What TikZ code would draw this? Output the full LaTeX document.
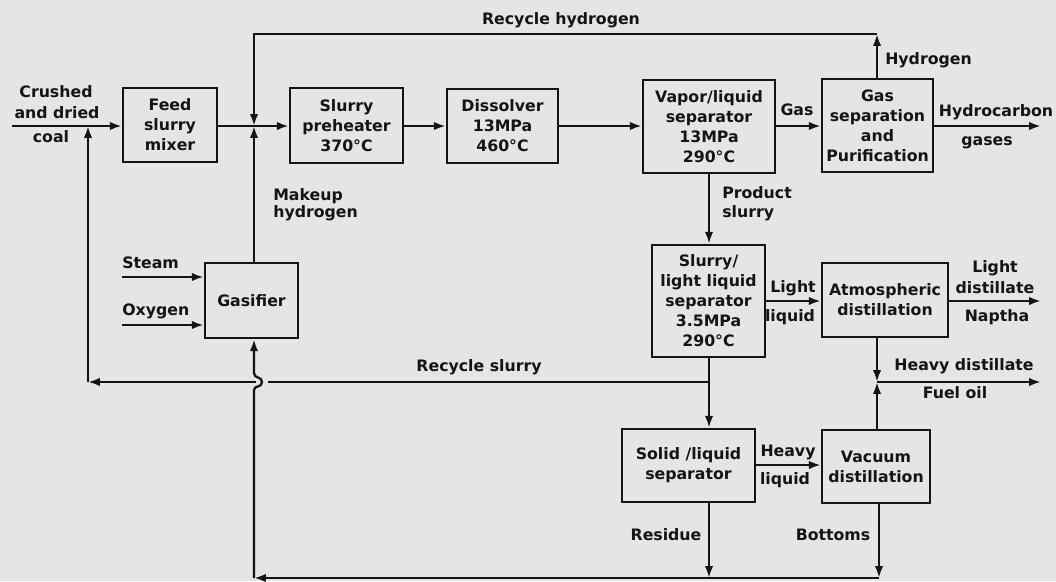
\documentclass[tikz,border=0pt]{standalone}
\usepackage{fontspec}
\setmainfont{DejaVu Sans}
\usetikzlibrary{arrows.meta}
\definecolor{bg}{HTML}{E5E5E3}
\definecolor{ink}{HTML}{141414}
\begin{document}
\begin{tikzpicture}[x=0.025cm,y=-0.025cm,
  font=\bfseries\fontsize{11.2}{14.2}\selectfont,
  box/.style={draw=ink, line width=1.7pt, align=center, inner sep=1pt, text=ink},
  flow/.style={draw=ink, line width=1.6pt},
  arr/.style={flow, -{Latex[length=8.5pt,width=6pt]}},
  lbl/.style={text=ink, inner sep=0pt, align=center}]
\fill[bg] (0,0) rectangle (1056,581);
\useasboundingbox (0,0) rectangle (1056,581);

% boxes
\node[box, minimum width=2.35cm, minimum height=1.85cm] (mix) at (170,125) {Feed\\slurry\\mixer};
\node[box, minimum width=2.825cm, minimum height=1.875cm] (pre) at (346.5,125.5) {Slurry\\preheater\\370°C};
\node[box, minimum width=2.775cm, minimum height=1.85cm] (dis) at (502.5,126) {Dissolver\\13MPa\\460°C};
\node[box, minimum width=3.3cm, minimum height=2.325cm] (vls) at (709,126.5) {Vapor/liquid\\separator\\13MPa\\290°C};
\node[box, minimum width=2.775cm, minimum height=2.325cm] (gsp) at (877.5,125.5) {Gas\\separation\\and\\Purification};
\node[box, minimum width=2.325cm, minimum height=1.875cm] (gasf) at (251.5,300.5) {Gasifier};
\node[box, minimum width=2.825cm, minimum height=2.8cm] (sls) at (708.5,301) {Slurry/\\light liquid\\separator\\3.5MPa\\290°C};
\node[box, minimum width=3.15cm, minimum height=1.85cm] (atm) at (885,300) {Atmospheric\\distillation};
\node[box, minimum width=3.325cm, minimum height=1.825cm] (sol) at (688.5,465.5) {Solid /liquid\\separator};
\node[box, minimum width=2.7cm, minimum height=1.825cm] (vac) at (876,466.5) {Vacuum\\distillation};

% coordinates
\coordinate (cin) at (12,126);
\coordinate (jn) at (254,126);
\coordinate (mk) at (88,126);
\coordinate (rh1) at (877,34);
\coordinate (rh2) at (254,34);
\coordinate (stin) at (122,277);
\coordinate (oxin) at (122,325);
\coordinate (rs) at (709,382);
\coordinate (rsL) at (88,382);
\coordinate (gapR) at (268,382);
\coordinate (gapL) at (256,382);
\coordinate (hd) at (877,382);
\coordinate (bR) at (879,578);
\coordinate (bM) at (709,578);
\coordinate (bL) at (254,578);
\coordinate (o1) at (1041,126);
\coordinate (o2) at (1041,301);
\coordinate (o3) at (1041,382);

% main line
\draw[arr] (cin) -- (mix.west |- cin);
\draw[arr] (mix.east |- jn) -- (pre.west |- jn);
\draw[arr] (pre.east |- jn) -- (dis.west |- jn);
\draw[arr] (dis.east |- jn) -- (vls.west |- jn);
\draw[arr] (vls.east |- jn) -- (gsp.west |- jn);
\draw[arr] (gsp.east |- o1) -- (o1);

% recycle hydrogen
\draw[arr] (gsp.north -| rh1) -- (rh1);
\draw[arr] (rh1) -- (rh2) -- (jn);
% makeup hydrogen
\draw[arr] (gasf.north -| jn) -- (jn);
% steam, oxygen
\draw[arr] (stin) -- (gasf.west |- stin);
\draw[arr] (oxin) -- (gasf.west |- oxin);

% product slurry
\draw[arr] (vls.south -| rs) -- (sls.north -| rs);
\draw[arr] (sls.south -| rs) -- (sol.north -| rs);
% recycle slurry
\draw[flow] (rs) -- (gapR);
\draw[arr] (gapL) -- (rsL);
\draw[arr] (rsL) -- (mk);

% light liquid
\draw[arr] (sls.east |- o2) -- (atm.west |- o2);
\draw[arr] (atm.east |- o2) -- (o2);
% heavy distillate
\draw[arr] (atm.south -| hd) -- (hd);
\draw[arr] (vac.north -| hd) -- (hd);
\draw[arr] (hd) -- (o3);
% heavy liquid
\draw[arr] (sol.east |- 0,465) -- (vac.west |- 0,465);
% residue, bottoms
\draw[arr] (sol.south -| bM) -- (bM);
\draw[arr] (vac.south -| bR) -- (bR);
\draw[arr] (bR) -- (bL);
\draw[arr] (bL) -- (254,390) .. controls (254,385) and (262,388) .. (262,382)
  .. controls (262,376) and (254,379) .. (254,373) -- (gasf.south -| bL);

% labels
\node[lbl] (lrh) at (561,20) {Recycle hydrogen};
\node[lbl] (lc1) at (56,92) {Crushed};
\node[lbl] (lc2) at (57,113) {and dried};
\node[lbl] (lc3) at (51,137) {coal};
\node[lbl, anchor=west] (lmk1) at (273,196) {Makeup};
\node[lbl, anchor=west] (lmk2) at (273,213) {hydrogen};
\node[lbl, anchor=west] (lst) at (122,263) {Steam};
\node[lbl, anchor=west] (lox) at (122,311) {Oxygen};
\node[lbl] (lrs) at (479,367) {Recycle slurry};
\node[lbl, anchor=west] (lh2) at (885,60) {Hydrogen};
\node[lbl] (lgas) at (797,110) {Gas};
\node[lbl] (lhc1) at (996,112) {Hydrocarbon};
\node[lbl] (lhc2) at (987,143) {gases};
\node[lbl, anchor=west] (lps1) at (722,193) {Product};
\node[lbl, anchor=west] (lps2) at (722,213) {slurry};
\node[lbl] (lll1) at (793,288) {Light};
\node[lbl] (lll2) at (790,317) {liquid};
\node[lbl] (lld1) at (995,268) {Light};
\node[lbl] (lld2) at (995,288) {distillate};
\node[lbl] (lld3) at (997,317) {Naptha};
\node[lbl] (lhd1) at (964,366) {Heavy distillate};
\node[lbl] (lhd2) at (955,393) {Fuel oil};
\node[lbl] (lres) at (666,535) {Residue};
\node[lbl] (lbot) at (833,535) {Bottoms};
\node[lbl] (lhl1) at (788,452) {Heavy};
\node[lbl] (lhl2) at (785,480) {liquid};
\end{tikzpicture}
\end{document}
